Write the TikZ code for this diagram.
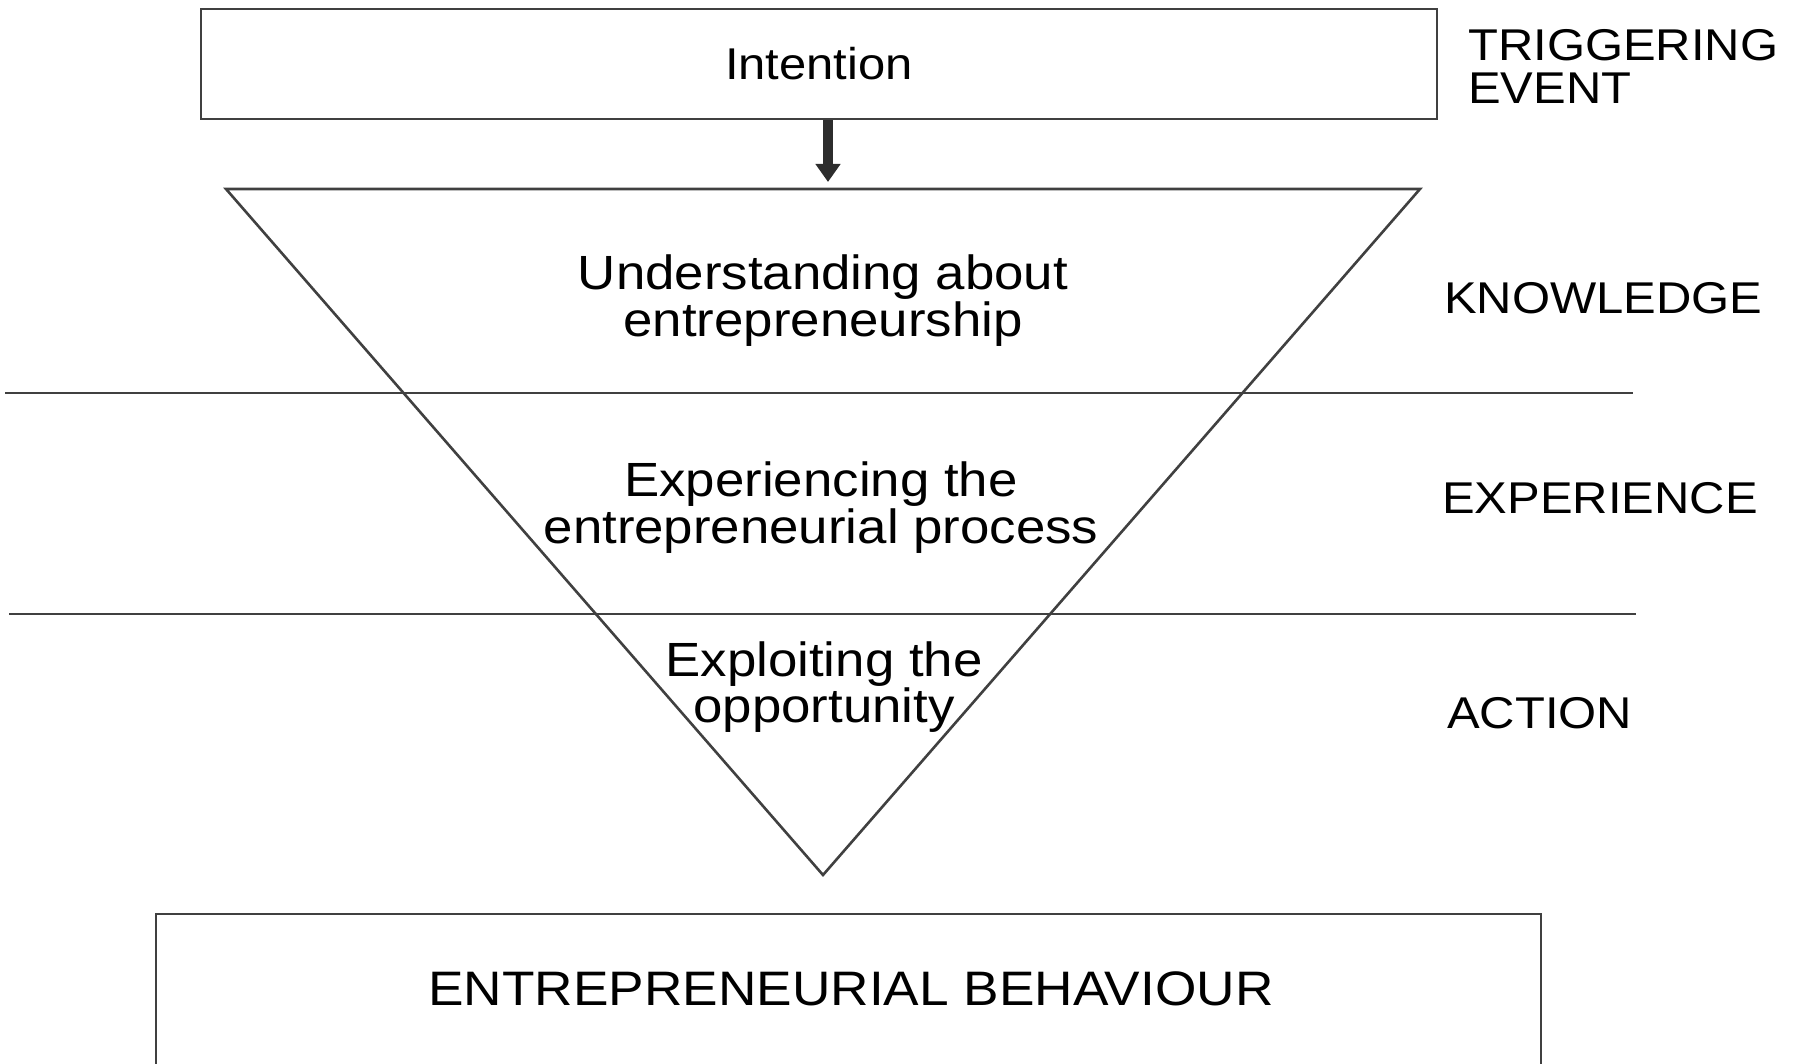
\documentclass[tikz,border=0pt]{standalone}
\usepackage{fontspec}
\setmainfont{Liberation Sans}
\newfontfamily\widesans[FakeStretch=1.1]{Liberation Sans}
\usetikzlibrary{arrows.meta}
\definecolor{linegray}{RGB}{64,64,64}
\definecolor{arrowgray}{RGB}{45,45,45}
\begin{document}
\begin{tikzpicture}[x=1pt,y=-1pt,
  ln/.style={draw=linegray, line width=2.6pt},
  inner/.style={font=\widesans\fontsize{48}{47}\selectfont, inner sep=0pt, anchor=base},
  lab/.style={font=\widesans\fontsize{44.5}{44}\selectfont, inner sep=0pt, anchor=base west},
  arr/.style={draw=arrowgray, line width=10pt, -{Triangle[length=18pt,width=24pt]}},
]
\useasboundingbox (0,0) rectangle (1796,1064);
% top box
\node[ln, minimum width=1236pt, minimum height=110pt, inner sep=0pt,
      font=\widesans\fontsize{44.5}{44}\selectfont] (intention) at (819,64) {Intention};
% triangle
\coordinate (tl) at (226,189);
\coordinate (tr) at (1420,189);
\coordinate (tb) at (823,875);
\coordinate (tritop) at (828,182);
\draw[ln, line join=miter] (tl) -- (tr) -- (tb) -- cycle;
\draw[arr] (intention.south -| tritop) -- (tritop);
% horizontal lines
\coordinate (l1a) at (5,393);
\coordinate (l1b) at (1633,393);
\coordinate (l2a) at (9,614);
\coordinate (l2b) at (1636,614);
\draw[ln] (l1a) -- (l1b);
\draw[ln] (l2a) -- (l2b);
% inner texts
\node[inner] (u1) at (823,290) {Understanding about};
\node[inner] (u2) at (823,337) {entrepreneurship};
\node[inner] (e1) at (821,496) {Experiencing the};
\node[inner] (e2) at (821,543) {entrepreneurial process};
\node[inner] (x1) at (824,676) {Exploiting the};
\node[inner] (x2) at (824,722) {opportunity};
% right labels
\node[lab] (trig1) at (1468,61) {TRIGGERING};
\node[lab] (trig2) at (1468,104) {EVENT};
\node[lab] (know) at (1444,314) {KNOWLEDGE};
\node[lab] (expe) at (1442,513) {EXPERIENCE};
\node[lab] (acti) at (1447,728) {ACTION};
% bottom box (open at the bottom edge of the picture)
\coordinate (bbl) at (156,1075);
\coordinate (btl) at (156,914);
\coordinate (btr) at (1541,914);
\coordinate (bbr) at (1541,1075);
\draw[ln, line join=miter] (bbl) -- (btl) -- (btr) -- (bbr);
\node[inner, font=\widesans\fontsize{48.4}{47}\selectfont] (beh) at (851,1005) {ENTREPRENEURIAL BEHAVIOUR};
\end{tikzpicture}
\end{document}
